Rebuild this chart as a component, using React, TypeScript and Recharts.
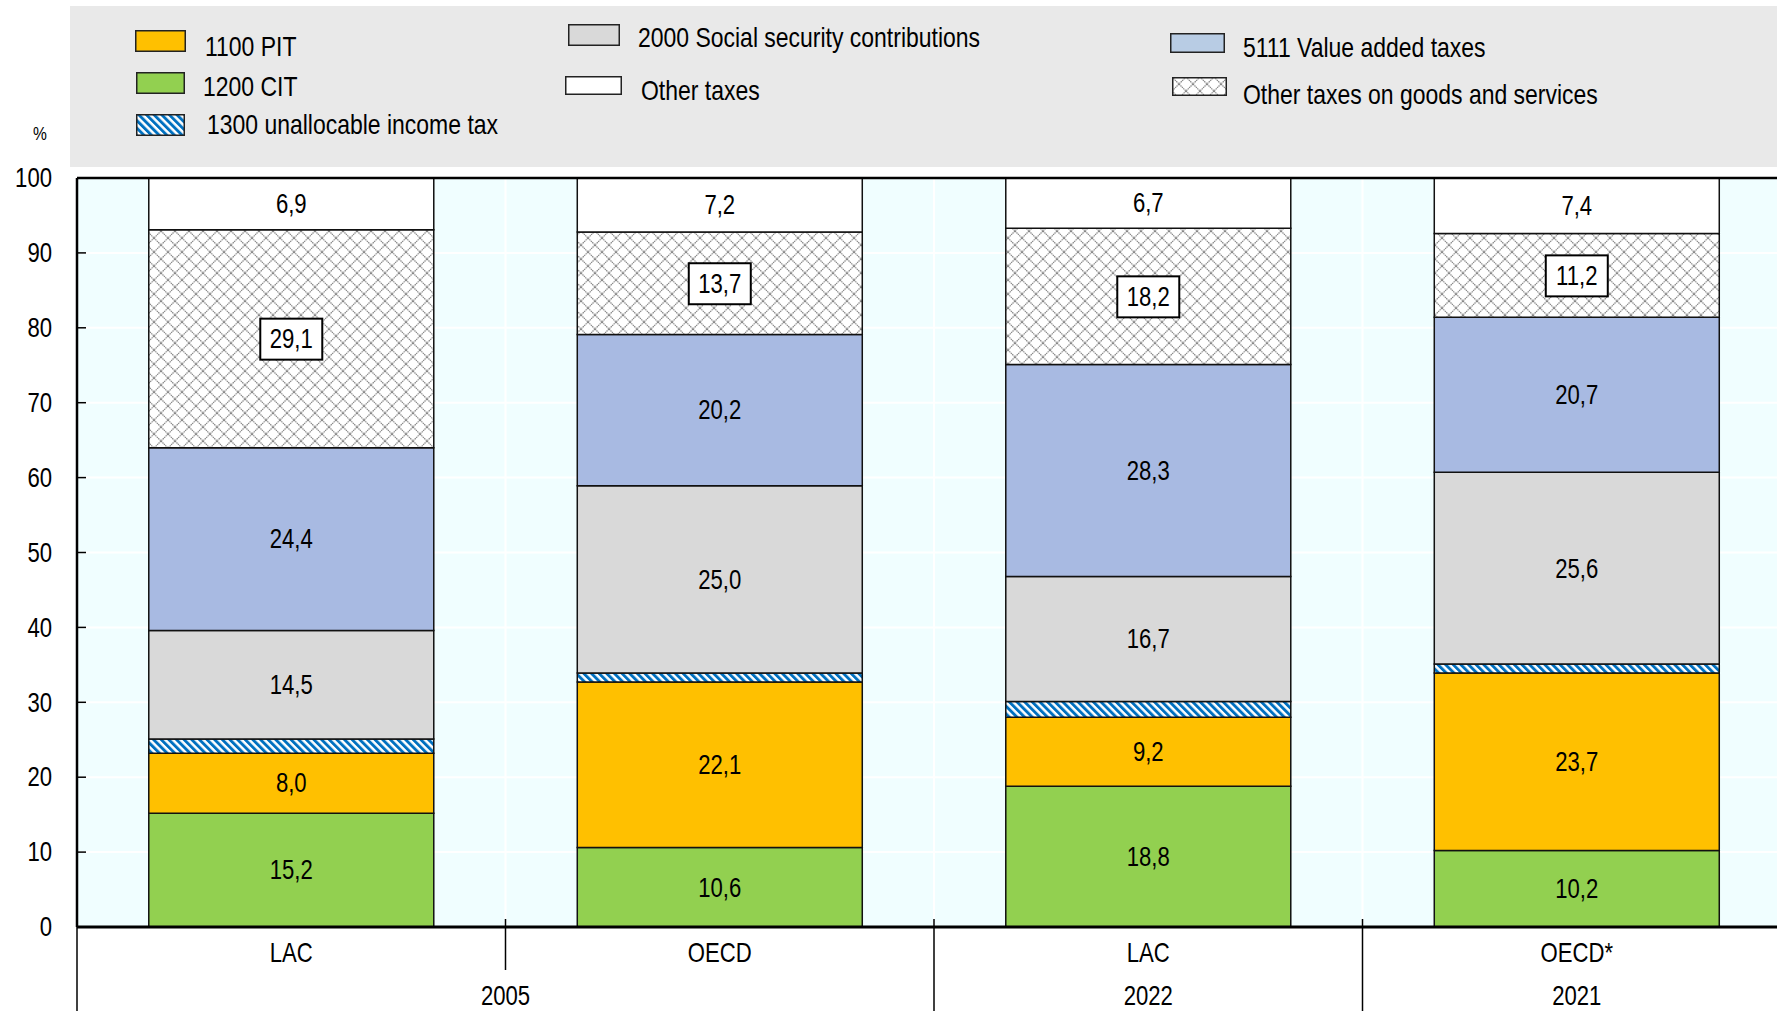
import React from 'react'
import {
  BarChart,
  Bar,
  XAxis,
  YAxis,
  CartesianGrid,
  LabelList,
  ReferenceLine,
} from 'recharts'

// categories and group labels (two-level x axis)
const categories = ['LAC', 'OECD', 'LAC', 'OECD*']
const years = ['2005', '2005', '2022', '2021']

// shares of total tax revenue, %
const cit = [15.2, 10.6, 18.8, 10.2]
const pit = [8.0, 22.1, 9.2, 23.7]
const unalloc = [1.9, 1.2, 2.1, 1.2]
const ssc = [14.5, 25.0, 16.7, 25.6]
const vat = [24.4, 20.2, 28.3, 20.7]
const ogs = [29.1, 13.7, 18.2, 11.2]
const other = [6.9, 7.2, 6.7, 7.4]

const yTicks = [0, 10, 20, 30, 40, 50, 60, 70, 80, 90, 100]

// no narrow font installed: squeeze Liberation Sans horizontally
const FONT = "'Liberation Sans Narrow', 'Arial Narrow', 'Liberation Sans', Arial, sans-serif"
const NARROW = 0.82

// layout
const W = 1791
const H = 1011
const MARGIN = { top: 178, right: 0, bottom: 0, left: 0 }
const Y_W = 77
const X_H = 84
const AXIS_X = MARGIN.left + Y_W
const PLOT_BOTTOM = H - MARGIN.bottom - X_H
const band = (W - MARGIN.left - MARGIN.right - Y_W) / categories.length

const data = categories.map((name, i) => ({
  name,
  year: years[i],
  cit: cit[i],
  pit: pit[i],
  unalloc: unalloc[i],
  ssc: ssc[i],
  vat: vat[i],
  ogs: ogs[i],
  other: other[i],
}))

type LabelKind = 'plain' | 'boxed' | 'none'

const series: { key: string; name: string; fill: string; legendFill: string; label: LabelKind }[] = [
  { key: 'cit', name: '1200 CIT', fill: '#92D050', legendFill: '#92D050', label: 'plain' },
  { key: 'pit', name: '1100 PIT', fill: '#FFC000', legendFill: '#FFC000', label: 'plain' },
  { key: 'unalloc', name: '1300 unallocable income tax', fill: 'url(#hatchBlue)', legendFill: 'hatch', label: 'none' },
  { key: 'ssc', name: '2000 Social security contributions', fill: '#D9D9D9', legendFill: '#D9D9D9', label: 'plain' },
  { key: 'vat', name: '5111 Value added taxes', fill: '#A8BAE2', legendFill: '#B8CCE4', label: 'plain' },
  { key: 'ogs', name: 'Other taxes on goods and services', fill: 'url(#crossGrey)', legendFill: 'cross', label: 'boxed' },
  { key: 'other', name: 'Other taxes', fill: '#FFFFFF', legendFill: '#FFFFFF', label: 'plain' },
]

// legend placement (page pixels)
const legendLayout: Record<string, { sx: number; sy: number; sw: number; sh: number; tx: number; ty: number }> = {
  pit: { sx: 135, sy: 30, sw: 51, sh: 22, tx: 205, ty: 47 },
  cit: { sx: 136, sy: 72, sw: 49, sh: 22, tx: 203, ty: 87 },
  unalloc: { sx: 136, sy: 114, sw: 49, sh: 22, tx: 207, ty: 125 },
  ssc: { sx: 568, sy: 24, sw: 52, sh: 22, tx: 638, ty: 38 },
  other: { sx: 565, sy: 76, sw: 57, sh: 19, tx: 641, ty: 91 },
  vat: { sx: 1170, sy: 33, sw: 55, sh: 20, tx: 1243, ty: 48 },
  ogs: { sx: 1172, sy: 77, sw: 55, sh: 19, tx: 1243, ty: 95 },
}

const fmt = (v: number) => v.toFixed(1).replace('.', ',')

function Patterns({ prefix = '' }: { prefix?: string }) {
  return (
    <defs>
      <pattern
        id={prefix + 'hatchBlue'}
        width={5.4}
        height={5.4}
        patternUnits="userSpaceOnUse"
        patternTransform="rotate(-45)"
      >
        <rect width={5.4} height={5.4} fill="#FFFFFF" />
        <rect width={2.9} height={5.4} fill="#0070C0" />
      </pattern>
      <pattern id={prefix + 'crossGrey'} width={14} height={14} patternUnits="userSpaceOnUse">
        <rect width={14} height={14} fill="#FFFFFF" />
        <path d="M0,0 L14,14 M14,0 L0,14" stroke="#868686" strokeWidth={1.2} strokeDasharray="1.4 0.6" />
      </pattern>
    </defs>
  )
}

function NarrowText({
  x,
  y,
  anchor = 'middle',
  size = 27,
  children,
}: {
  x: number
  y: number
  anchor?: 'start' | 'middle' | 'end'
  size?: number
  children: React.ReactNode
}) {
  return (
    <text
      transform={`translate(${x},${y}) scale(${NARROW},1)`}
      x={0}
      y={0}
      textAnchor={anchor}
      dominantBaseline="central"
      fontSize={size}
      fontFamily={FONT}
      fill="#000"
    >
      {children}
    </text>
  )
}

function makeLabel(kind: LabelKind) {
  return (props: any) => {
    const x = Number(props.x)
    const y = Number(props.y)
    const w = Number(props.width)
    const h = Number(props.height)
    const cx = x + w / 2
    const cy = y + h / 2
    return (
      <g>
        {kind === 'boxed' && (
          <rect x={cx - 31} y={cy - 20} width={62} height={41} fill="#FFFFFF" stroke="#000" strokeWidth={2} />
        )}
        <NarrowText x={cx} y={cy}>
          {fmt(Number(props.value))}
        </NarrowText>
      </g>
    )
  }
}

function YTick(props: any) {
  const { y, payload } = props
  return (
    <g>
      <line x1={AXIS_X} x2={AXIS_X + 9} y1={y} y2={y} stroke="#000" strokeWidth={1.5} />
      <NarrowText x={AXIS_X - 25} y={y} anchor="end">
        {payload.value}
      </NarrowText>
    </g>
  )
}

function XTick(props: any) {
  const { x, payload } = props
  const i: number = props.index ?? payload.index ?? 0
  const left = x - band / 2
  const groupStart = i === 0 || years[i] !== years[i - 1]
  let end = i
  while (end + 1 < years.length && years[end + 1] === years[i]) end++
  const groupCenter = left + (band * (end - i + 1)) / 2
  return (
    <g>
      <NarrowText x={x} y={PLOT_BOTTOM + 26}>
        {payload.value}
      </NarrowText>
      <line
        x1={left}
        x2={left}
        y1={PLOT_BOTTOM - 8}
        y2={groupStart ? H : PLOT_BOTTOM + 43}
        stroke="#000"
        strokeWidth={1.5}
      />
      {groupStart && (
        <NarrowText x={groupCenter} y={PLOT_BOTTOM + 69}>
          {years[i]}
        </NarrowText>
      )}
    </g>
  )
}

function LegendBox() {
  return (
    <div
      style={{
        position: 'absolute',
        left: 70,
        top: 6,
        width: 1720,
        height: 161,
        background: '#E9E9E9',
      }}
    >
      {series.map((s) => {
        const p = legendLayout[s.key]
        const id = 'lg-' + s.key + '-'
        const fill =
          s.legendFill === 'hatch'
            ? `url(#${id}hatchBlue)`
            : s.legendFill === 'cross'
            ? `url(#${id}crossGrey)`
            : s.legendFill
        return (
          <React.Fragment key={s.key}>
            <svg
              width={p.sw}
              height={p.sh}
              style={{ position: 'absolute', left: p.sx - 70, top: p.sy - 6 }}
            >
              <Patterns prefix={id} />
              <rect x={0.75} y={0.75} width={p.sw - 1.5} height={p.sh - 1.5} fill={fill} stroke="#222" strokeWidth={1.5} />
            </svg>
            <div
              style={{
                position: 'absolute',
                left: p.tx - 70,
                top: p.ty - 6 - 16,
                height: 32,
                lineHeight: '32px',
                fontSize: 28,
                fontFamily: FONT,
                color: '#000',
                whiteSpace: 'nowrap',
                transform: `scaleX(${NARROW})`,
                transformOrigin: 'left center',
              }}
            >
              {s.name}
            </div>
          </React.Fragment>
        )
      })}
    </div>
  )
}

export default function App() {
  return (
    <div
      style={{
        position: 'absolute',
        left: 0,
        top: 0,
        width: 1777,
        height: 1011,
        overflow: 'hidden',
        background: '#FFFFFF',
      }}
    >
      <div style={{ position: 'absolute', left: 0, top: 0 }}>
        <BarChart width={W} height={H} data={data} margin={MARGIN} barCategoryGap="16.75%">
          <Patterns />
          <CartesianGrid
            fill="#F0FEFF"
            stroke="#FFFFFF"
            strokeWidth={2}
            verticalCoordinatesGenerator={({ offset }: any) =>
              categories.slice(1).map((_, k) => offset.left + band * (k + 1))
            }
          />
          <XAxis
            dataKey="name"
            height={X_H}
            tick={<XTick />}
            tickLine={false}
            axisLine={{ stroke: '#000', strokeWidth: 3 }}
            interval={0}
          />
          <YAxis
            width={Y_W}
            domain={[0, 100]}
            ticks={yTicks}
            tick={<YTick />}
            tickLine={false}
            axisLine={{ stroke: '#000', strokeWidth: 2.5 }}
          />
          {series.map((s) => (
            <Bar
              key={s.key}
              dataKey={s.key}
              name={s.name}
              stackId="a"
              fill={s.fill}
              stroke="#111"
              strokeWidth={1.5}
              isAnimationActive={false}
            >
              {s.label !== 'none' && <LabelList dataKey={s.key} content={makeLabel(s.label)} />}
            </Bar>
          ))}
          <ReferenceLine y={100} stroke="#000" strokeWidth={2.5} />
        </BarChart>
      </div>
      <LegendBox />
      <div
        style={{
          position: 'absolute',
          left: 33,
          top: 122,
          fontSize: 19,
          lineHeight: '24px',
          fontFamily: FONT,
          color: '#000',
          transform: `scaleX(${NARROW})`,
          transformOrigin: 'left center',
        }}
      >
        %
      </div>
    </div>
  )
}
